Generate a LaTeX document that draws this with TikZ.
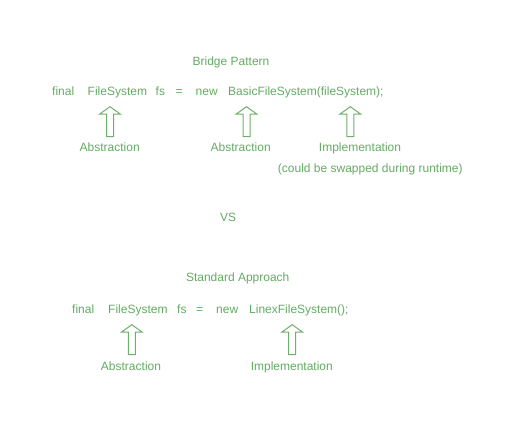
\documentclass[tikz,border=0pt]{standalone}
\usepackage{fontspec}
\setmainfont{Liberation Sans}
\definecolor{txtgreen}{RGB}{100,170,100}
\definecolor{arrgreen}{RGB}{110,175,110}
\tikzset{
  lbl/.style={anchor=base, inner sep=0pt, text=txtgreen, font=\fontsize{12}{14}\selectfont},
  word/.style={anchor=base west, inner sep=0pt, text=txtgreen, font=\fontsize{12}{14}\selectfont},
  blockarrow/.style={draw=arrgreen, line width=1pt, line join=miter, fill=white},
  pics/uparrow/.style={code={
    \draw[blockarrow] (-3.5,30) -- (-3.5,7.5) -- (-10.5,7.5) -- (0,0) -- (10.5,7.5) -- (3.5,7.5) -- (3.5,30) -- cycle;
  }}
}
\begin{document}
\begin{tikzpicture}[x=1pt,y=-1pt]
\useasboundingbox (0,0) rectangle (521,426);
% Bridge pattern
\node[lbl] (title1) at (231,65.5) {Bridge Pattern};
\node[word] (w1) at (52,95.3) {final};
\node[word] (w2) at (87.5,95.3) {FileSystem};
\node[word] (w3) at (155.5,95.3) {fs};
\node[word] (w4) at (175.5,95.3) {=};
\node[word] (w5) at (195.5,95.3) {new};
\node[word] (w6) at (228,95.3) {BasicFileSystem(fileSystem);};
\pic (a1) at (110,106.7) {uparrow};
\pic (a2) at (246.5,106.7) {uparrow};
\pic (a3) at (350.3,106.7) {uparrow};
\node[lbl] (l1) at (109.7,151.7) {Abstraction};
\node[lbl] (l2) at (240.7,151.7) {Abstraction};
\node[lbl] (l3) at (360,151.7) {Implementation};
\node[lbl] (l4) at (370.3,172) {(could be swapped during runtime)};
% VS
\node[lbl] (vs) at (228,221.3) {VS};
% Standard approach
\node[lbl] (title2) at (237.7,281.7) {Standard Approach};
\node[word] (v1) at (72,313.3) {final};
\node[word] (v2) at (108,313.3) {FileSystem};
\node[word] (v3) at (177,313.3) {fs};
\node[word] (v4) at (196,313.3) {=};
\node[word] (v5) at (216,313.3) {new};
\node[word] (v6) at (249,313.3) {LinexFileSystem();};
\pic (b1) at (131.8,324.7) {uparrow};
\pic (b2) at (292.2,324.7) {uparrow};
\node[lbl] (m1) at (131,370) {Abstraction};
\node[lbl] (m2) at (291.8,370) {Implementation};
\end{tikzpicture}
\end{document}
